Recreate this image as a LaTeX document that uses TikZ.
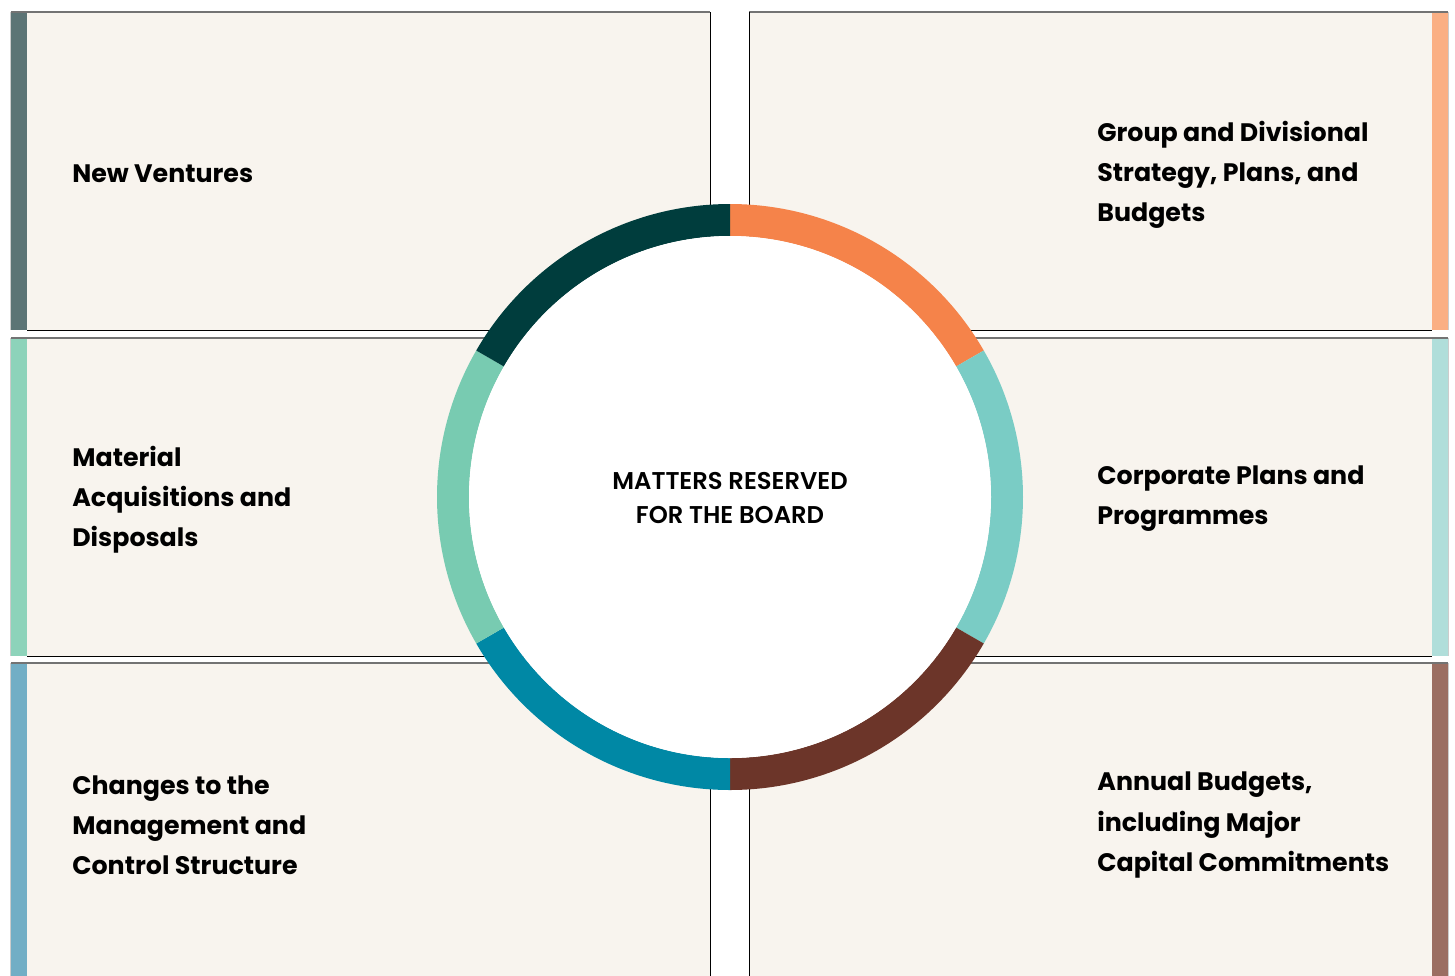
\documentclass[tikz,border=0pt]{standalone}
\usepackage{fontspec}
\setmainfont{Poppins}
\newfontfamily\medfont{Poppins SemiBold}
\usepackage{xcolor}
\usetikzlibrary{positioning}
\definecolor{panelbg}{HTML}{F8F4EE}
\definecolor{ringdark}{HTML}{003D3D}
\definecolor{ringorange}{HTML}{F5834A}
\definecolor{ringteal}{HTML}{7ACCC5}
\definecolor{ringbrown}{HTML}{6C3529}
\definecolor{ringblue}{HTML}{0088A5}
\definecolor{ringgreen}{HTML}{78CBB1}
\definecolor{barslate}{HTML}{5C7475}
\definecolor{barmint}{HTML}{8DD3BA}
\definecolor{barblue}{HTML}{72AEC5}
\definecolor{barpeach}{HTML}{FAAF84}
\definecolor{barice}{HTML}{B0DEDA}
\definecolor{barbrown}{HTML}{9B6E62}
\tikzset{
  panel/.style={fill=panelbg},
  itemlabel/.style={font=\fontsize{14.4}{22.8}\selectfont\bfseries, anchor=west, align=left, inner sep=0pt},
}

\begin{document}
\begin{tikzpicture}[x=0.02cm, y=-0.02cm]
\useasboundingbox (0,0) rectangle (1455,975);
\fill[white] (0,0) rectangle (1455,975);
% three rows of panels, left and right (last row runs off the page)
\foreach \ytop/\ybot/\lbar/\rbar in {12/330/barslate/barpeach, 338/656/barmint/barice, 663/990/barblue/barbrown}{
  \fill[panel] (11,\ytop) rectangle (710,\ybot);
  \fill[panel] (749,\ytop) rectangle (1448,\ybot);
  \fill[\lbar] (11,\ytop) rectangle (27,\ybot);
  \fill[\rbar] (1432,\ytop) rectangle (1448,\ybot);
  \draw[black!55, line width=0.6pt] (11,\ytop) -- (710,\ytop);
  \draw[black!55, line width=0.6pt] (749,\ytop) -- (1448,\ytop);
  \draw[black, line width=0.5pt] (710,\ytop) -- (710,\ybot) -- (27,\ybot);
  \draw[black, line width=0.5pt] (749,\ytop) -- (749,\ybot) -- (1432,\ybot);
  \draw[black!20, line width=0.4pt] (10.5,\ytop) -- (10.5,\ybot);
  \draw[black!20, line width=0.4pt] (1448.5,\ytop) -- (1448.5,\ybot);
}
% ring of six segments
\begin{scope}[shift={(730,497)}, yscale=-1]
  \foreach \a/\c in {30/ringorange, -30/ringteal, -90/ringbrown, -150/ringblue, 150/ringgreen, 90/ringdark}{
    \fill[\c] (\a:293) arc[start angle=\a, end angle=\a+60, radius=293]
      -- (\a+60:261) arc[start angle=\a+60, end angle=\a, radius=261] -- cycle;
  }
  \fill[white] (0,0) circle[radius=261];
\end{scope}
\node[font=\fontsize{13.8}{19.4}\selectfont\medfont, align=center] (hub) at (730,498)
  {MATTERS RESERVED\\FOR THE BOARD};
\node[itemlabel] (ventures) at (72,174) {New Ventures};
\node[itemlabel] (acquisitions) at (72,500) {Material\\Acquisitions and\\Disposals};
\node[itemlabel] (structure) at (72,825) {Changes to the\\Management and\\Control Structure};
\node[itemlabel] (strategy) at (1097,175) {Group and Divisional\\Strategy, Plans, and\\Budgets};
\node[itemlabel] (corporate) at (1097,499) {Corporate Plans and\\Programmes};
\node[itemlabel] (budgets) at (1097,825) {Annual Budgets,\\including Major\\Capital Commitments};
\end{tikzpicture}
\end{document}
